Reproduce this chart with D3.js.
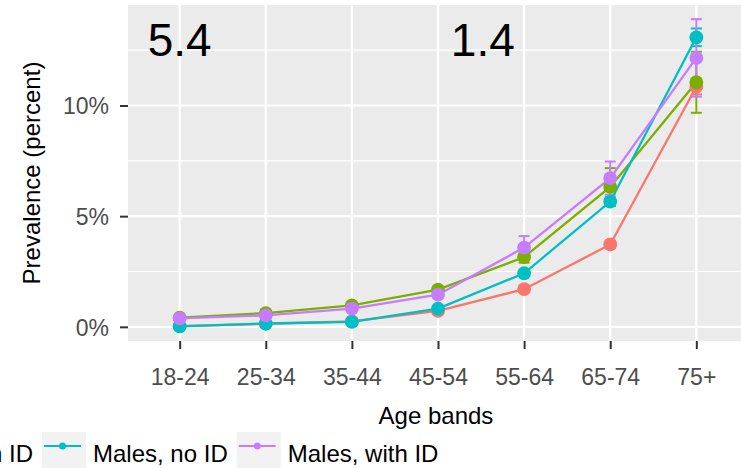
<!DOCTYPE html>
<html>
<head>
<meta charset="utf-8">
<script src="https://cdn.jsdelivr.net/npm/d3@7"></script>
<style>
  html, body { margin: 0; padding: 0; background: #fff; }
  svg { display: block; font-family: "Liberation Sans", Arial, sans-serif; }
</style>
</head>
<body>
<svg id="chart" width="741" height="468"></svg>
<script>
// ---------- data ----------
const ageBands = ["18-24", "25-34", "35-44", "45-54", "55-64", "65-74", "75+"];
const seriesNames = ["Females, no ID", "Females, with ID", "Males, no ID", "Males, with ID"];
const seriesColors = ["#F8766D", "#7CAE00", "#00BFC4", "#C77CFF"];

const femalesNoId      = [0.03, 0.14, 0.25, 0.72, 1.70, 3.72, 10.85];
const femalesNoIdErr   = [0.02, 0.03, 0.04, 0.10, 0.12, 0.15, 0.35];
const femalesWithId    = [0.42, 0.62, 0.97, 1.68, 3.15, 6.32, 11.05];
const femalesWithIdErr = [0.10, 0.10, 0.12, 0.15, 0.25, 0.85, 1.38];
const malesNoId        = [0.02, 0.15, 0.22, 0.82, 2.42, 5.66, 13.08];
const malesNoIdErr     = [0.02, 0.03, 0.04, 0.08, 0.12, 0.20, 0.40];
const malesWithId      = [0.38, 0.52, 0.82, 1.45, 3.58, 6.72, 12.15];
const malesWithIdErr   = [0.10, 0.10, 0.12, 0.15, 0.52, 0.75, 1.75];

const yTicks = [0, 5, 10];
const yMinorTicks = [2.5, 7.5, 12.5];
const yDomain = [-0.64, 14.54];

const annotLabels = ["5.4", "1.4"];
const annotX = [0, 3.52];   // category index positions
const annotY = [13, 13];

const xTitle = "Age bands";
const yTitle = "Prevalence (percent)";

// ---------- build ----------
const seriesValues = [femalesNoId, femalesWithId, malesNoId, malesWithId];
const seriesErrs = [femalesNoIdErr, femalesWithIdErr, malesNoIdErr, malesWithIdErr];
const series = seriesNames.map((name, i) => ({
  name, color: seriesColors[i],
  points: ageBands.map((b, j) => ({ band: b, idx: j, v: seriesValues[i][j], e: seriesErrs[i][j] }))
}));

const svg = d3.select("#chart");
const panel = { left: 128, right: 748, top: 5, bottom: 341 };

const x = d3.scalePoint().domain(ageBands).range([panel.left, panel.right]).padding(0.6);
const xIdx = i => x(ageBands[0]) + i * x.step();
const y = d3.scaleLinear().domain(yDomain).range([panel.bottom, panel.top]);

// panel background
svg.append("rect")
  .attr("x", panel.left).attr("y", panel.top)
  .attr("width", panel.right - panel.left).attr("height", panel.bottom - panel.top)
  .attr("fill", "#EBEBEB");

// grid
const grid = svg.append("g");
grid.selectAll(".minor").data(yMinorTicks).join("line")
  .attr("x1", panel.left).attr("x2", panel.right)
  .attr("y1", d => y(d)).attr("y2", d => y(d))
  .attr("stroke", "#fff").attr("stroke-width", 1.1);
grid.selectAll(".majory").data(yTicks).join("line")
  .attr("x1", panel.left).attr("x2", panel.right)
  .attr("y1", d => y(d)).attr("y2", d => y(d))
  .attr("stroke", "#fff").attr("stroke-width", 2.2);
grid.selectAll(".majorx").data(ageBands).join("line")
  .attr("x1", d => x(d)).attr("x2", d => x(d))
  .attr("y1", panel.top).attr("y2", panel.bottom)
  .attr("stroke", "#fff").attr("stroke-width", 2.2);

// axes
const xAxis = svg.append("g")
  .attr("transform", `translate(0,${panel.bottom})`)
  .call(d3.axisBottom(x).tickSize(8).tickPadding(18));
const yAxis = svg.append("g")
  .attr("transform", `translate(${panel.left},0)`)
  .call(d3.axisLeft(y).tickValues(yTicks).tickFormat(d => d + "%").tickSize(8).tickPadding(11));
[xAxis, yAxis].forEach(a => {
  a.select(".domain").remove();
  a.selectAll(".tick line").attr("stroke", "#333333").attr("stroke-width", 2);
  a.selectAll(".tick text").attr("fill", "#4D4D4D").style("font-size", "23px")
    .style("font-family", '"Liberation Sans", Arial, sans-serif');
});
xAxis.selectAll(".tick text").attr("dy", null).attr("y", 44);
yAxis.selectAll(".tick text").attr("dy", "0.36em");

// axis titles
svg.append("text").attr("x", (panel.left + panel.right) / 2 - 2).attr("y", 424)
  .attr("text-anchor", "middle").style("font-size", "24px").attr("fill", "#000")
  .text(xTitle);
svg.append("text")
  .attr("transform", `translate(40,${(panel.top + panel.bottom) / 2}) rotate(-90)`)
  .attr("text-anchor", "middle").style("font-size", "24px").attr("fill", "#000")
  .text(yTitle);

// error bars
const capW = 11;
const eb = svg.append("g");
series.forEach(s => {
  const g = eb.append("g").attr("stroke", s.color).attr("stroke-width", 2).attr("fill", "none");
  g.selectAll(".stem").data(s.points).join("line")
    .attr("x1", d => x(d.band)).attr("x2", d => x(d.band))
    .attr("y1", d => y(d.v - d.e)).attr("y2", d => y(d.v + d.e));
  g.selectAll(".capt").data(s.points).join("line")
    .attr("x1", d => x(d.band) - capW / 2).attr("x2", d => x(d.band) + capW / 2)
    .attr("y1", d => y(d.v + d.e)).attr("y2", d => y(d.v + d.e));
  g.selectAll(".capb").data(s.points).join("line")
    .attr("x1", d => x(d.band) - capW / 2).attr("x2", d => x(d.band) + capW / 2)
    .attr("y1", d => y(d.v - d.e)).attr("y2", d => y(d.v - d.e));
});

// lines
const line = d3.line().x(d => x(d.band)).y(d => y(d.v));
svg.append("g").selectAll("path").data(series).join("path")
  .attr("d", s => line(s.points))
  .attr("fill", "none").attr("stroke", s => s.color).attr("stroke-width", 2.3);

// points
series.forEach(s => {
  svg.append("g").selectAll("circle").data(s.points).join("circle")
    .attr("cx", d => x(d.band)).attr("cy", d => y(d.v)).attr("r", 6.9)
    .attr("fill", s.color);
});

// annotations
svg.append("g").selectAll("text").data(annotLabels).join("text")
  .attr("x", (d, i) => xIdx(annotX[i]))
  .attr("y", (d, i) => y(annotY[i]))
  .attr("dy", "0.36em")
  .attr("text-anchor", "middle").style("font-size", "46px").attr("fill", "#000")
  .text(d => d);

// legend (laid out so the "Males, no ID" key starts at x = 42)
const legend = svg.append("g");
const keyW = 44, keyGap = 7, itemGap = 9, legY = 432, legTextY = 462;
const meas = svg.append("text").style("font-size", "24px");
const widths = seriesNames.map(n => { meas.text(n); return meas.node().getComputedTextLength(); });
meas.remove();
const itemX = [];
itemX[2] = 42;
itemX[1] = itemX[2] - itemGap - widths[1] - keyGap - keyW;
itemX[0] = itemX[1] - itemGap - widths[0] - keyGap - keyW;
itemX[3] = itemX[2] + keyW + keyGap + widths[2] + itemGap;
series.forEach((s, i) => {
  const g = legend.append("g").attr("transform", `translate(${itemX[i]},0)`);
  g.append("rect").attr("x", 0).attr("y", legY).attr("width", keyW).attr("height", 40).attr("fill", "#F2F2F2");
  g.append("line").attr("x1", 2).attr("x2", 39).attr("y1", 446).attr("y2", 446)
    .attr("stroke", s.color).attr("stroke-width", 2.2);
  g.append("circle").attr("cx", 20.5).attr("cy", 446).attr("r", 3.5).attr("fill", s.color);
  g.append("text").attr("x", keyW + keyGap).attr("y", legTextY)
    .style("font-size", "24px").attr("fill", "#000").text(s.name);
});
</script>
</body>
</html>
